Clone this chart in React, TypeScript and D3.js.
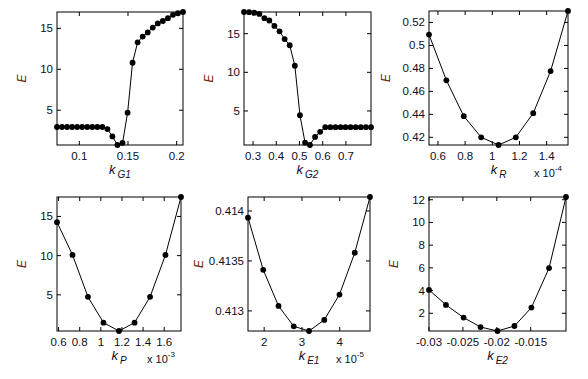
import * as d3 from 'd3'

// sweep values (x) and objective E (y) per parameter
const kG1 = [0.0771, 0.0823, 0.0875, 0.0926, 0.0978, 0.1030, 0.1082, 0.1133, 0.1185, 0.1237, 0.1289, 0.1340, 0.1392,
  0.1444, 0.1496, 0.1547, 0.1599, 0.1651, 0.1703, 0.1755, 0.1806, 0.1858, 0.1910, 0.1962, 0.2013, 0.2065]
const eG1 = [2.95, 2.95, 2.95, 2.95, 2.95, 2.95, 2.95, 2.95, 2.95, 2.95, 2.7, 1.8, 0.75,
  1.0, 4.7, 10.8, 13.3, 14.0, 14.5, 15.1, 15.6, 15.9, 16.25, 16.65, 16.85, 17.0]

const kG2 = [0.261, 0.283, 0.305, 0.327, 0.349, 0.370, 0.392, 0.414, 0.436, 0.458, 0.480, 0.502, 0.524,
  0.545, 0.567, 0.589, 0.611, 0.633, 0.655, 0.677, 0.698, 0.720, 0.742, 0.764, 0.786, 0.808]
const eG2 = [17.8, 17.78, 17.7, 17.55, 17.0, 16.7, 16.0, 15.3, 14.3, 13.5, 10.85, 4.45, 0.9,
  0.6, 1.65, 2.3, 2.9, 2.9, 2.9, 2.9, 2.9, 2.9, 2.9, 2.9, 2.9, 2.9]

const kR = [0.534, 0.662, 0.790, 0.918, 1.046, 1.173, 1.301, 1.429, 1.557]
const eR = [0.5095, 0.4696, 0.4384, 0.4200, 0.4133, 0.4200, 0.4410, 0.4777, 0.5300]

const kP = [0.585, 0.732, 0.878, 1.025, 1.172, 1.319, 1.466, 1.612, 1.759]
const eP = [14.27, 10.09, 4.74, 1.45, 0.385, 1.45, 4.74, 10.09, 17.48]

const kE1 = [1.573, 1.976, 2.380, 2.783, 3.187, 3.590, 3.993, 4.397, 4.800]
const eE1 = [0.413933, 0.413411, 0.41305, 0.412846, 0.412799, 0.41291, 0.413164, 0.413582, 0.41414]

const kE2 = [-0.0300, -0.0275, -0.0249, -0.0224, -0.0199, -0.0174, -0.0149, -0.0123, -0.0098]
const eE2 = [4.06, 2.74, 1.62, 0.79, 0.44, 0.88, 2.5, 5.98, 12.24]

// tick labels
const xTicksG1 = [0.1, 0.15, 0.2]
const xTicksG2 = [0.3, 0.4, 0.5, 0.6, 0.7]
const xTicksR = [0.6, 0.8, 1, 1.2, 1.4]
const xTicksP = [0.6, 0.8, 1, 1.2, 1.4, 1.6]
const xTicksE1 = [2, 3, 4]
const xTicksE2 = [-0.03, -0.025, -0.02, -0.015]
const yTicksBig = [5, 10, 15]
const yTicksR = [0.42, 0.44, 0.46, 0.48, 0.5, 0.52]
const yTicksE1 = [0.413, 0.4135, 0.414]
const yTicksE2 = [2, 4, 6, 8, 10, 12]

const FONT = '"Liberation Sans", Arial, sans-serif'
const LABEL_RED = '#6e2a10'
const INK = '#0e0e22'

type PanelProps = {
  xs: number[]; ys: number[]
  xTicks: number[]; yTicks: number[]
  box: [number, number, number, number] // left, right, top, bottom
  sub: string; exp?: string; yLabelDx: number
}

function Panel({ xs, ys, xTicks, yTicks, box, sub, exp, yLabelDx }: PanelProps) {
  const [x0, x1, y0, y1] = box
  const x = d3.scaleLinear().domain(d3.extent(xs) as [number, number]).range([x0, x1])
  const y = d3.scaleLinear().domain(d3.extent(ys) as [number, number]).range([y1, y0])
  const pts = xs.map((v, i) => [v, ys[i]] as [number, number])
  const line = d3.line<[number, number]>().x(d => x(d[0])).y(d => y(d[1]))
  const tl = 4
  const cx = (x0 + x1) / 2
  const cy = (y0 + y1) / 2

  return (
    <g>
      {xTicks.map(t => (
        <g key={'x' + t}>
          <line x1={x(t)} x2={x(t)} y1={y1} y2={y1 - tl} stroke="#000" />
          <line x1={x(t)} x2={x(t)} y1={y0} y2={y0 + tl} stroke="#000" />
          <text x={x(t)} y={y1 + 14.5} textAnchor="middle" fontSize={11.5} fill={INK}>{String(t)}</text>
        </g>
      ))}
      {yTicks.map(t => (
        <g key={'y' + t}>
          <line x1={x0} x2={x0 + tl} y1={y(t)} y2={y(t)} stroke="#000" />
          <line x1={x1} x2={x1 - tl} y1={y(t)} y2={y(t)} stroke="#000" />
          <text x={x0 - 4} y={y(t) + 4} textAnchor="end" fontSize={11.5} fill={INK}>{String(t)}</text>
        </g>
      ))}
      <rect x={x0} y={y0} width={x1 - x0} height={y1 - y0} fill="none" stroke="#000" strokeWidth={1} />
      <path d={line(pts) ?? ''} fill="none" stroke="#000" strokeWidth={1} />
      {pts.map((p, i) => (
        <circle key={i} cx={x(p[0])} cy={y(p[1])} r={2.9} fill="#000" />
      ))}
      <text transform={`translate(${x0 + yLabelDx},${cy}) rotate(-90)`} textAnchor="middle"
        fontSize={12} fontStyle="italic" fill={LABEL_RED}>E</text>
      <text x={cx} y={y1 + 29} textAnchor="middle" fill={INK} fontStyle="italic">
        <tspan fontSize={13}>k</tspan>
        <tspan fontSize={10} dx={2} dy={4}>{sub}</tspan>
      </text>
      {exp && (
        <text x={x1 - 14} y={y1 + 32} textAnchor="start" fontSize={11} fill={INK}>
          <tspan dx={-20}>x 10</tspan>
          <tspan fontSize={8} dy={-6}>{exp}</tspan>
        </text>
      )}
    </g>
  )
}

export default function App() {
  return (
    <svg width={588} height={379} style={{ display: 'block', position: 'absolute', left: 0, top: 0, background: '#fff' }}
      fontFamily={FONT}>
      <Panel xs={kG1} ys={eG1} xTicks={xTicksG1} yTicks={yTicksBig} box={[57, 183, 12, 145]} sub="G1" yLabelDx={-31} />
      <Panel xs={kG2} ys={eG2} xTicks={xTicksG2} yTicks={yTicksBig} box={[244, 371, 12, 145]} sub="G2" yLabelDx={-31} />
      <Panel xs={kR} ys={eR} xTicks={xTicksR} yTicks={yTicksR} box={[429, 568, 11, 145]} sub="R" exp="-4" yLabelDx={-39} />
      <Panel xs={kP} ys={eP} xTicks={xTicksP} yTicks={yTicksBig} box={[57, 181, 197, 331]} sub="P" exp="-3" yLabelDx={-31} />
      <Panel xs={kE1} ys={eE1} xTicks={xTicksE1} yTicks={yTicksE1} box={[248, 370, 197, 331]} sub="E1" exp="-5" yLabelDx={-45} />
      <Panel xs={kE2} ys={eE2} xTicks={xTicksE2} yTicks={yTicksE2} box={[429, 566, 197, 331]} sub="E2" yLabelDx={-31} />
    </svg>
  )
}
